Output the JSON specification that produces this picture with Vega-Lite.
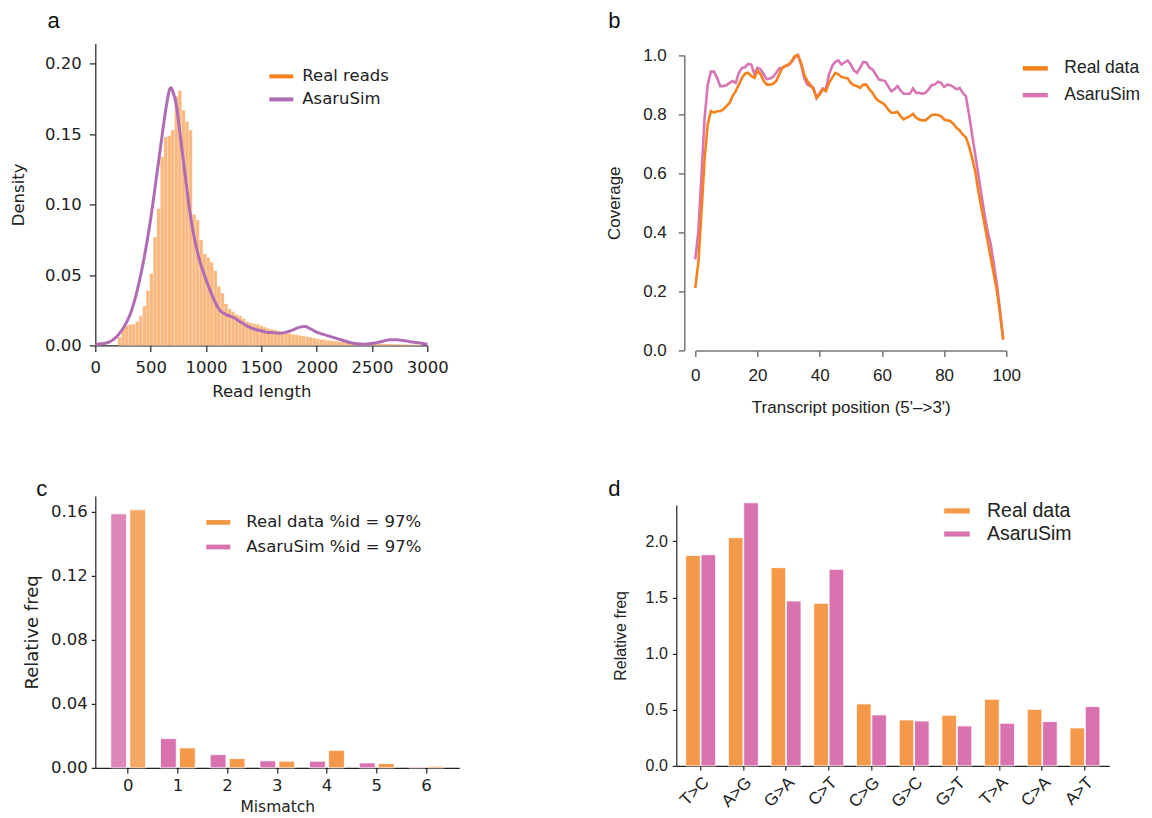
{
  "$schema": "https://vega.github.io/schema/vega-lite/v6.json",
  "background": "white",
  "padding": {"left": 10.3, "top": 9.4, "right": 5, "bottom": 0},
  "datasets": {
    "hist": [
      {"bin_start":204,"bin_end":236,"density":0.006},{"bin_start":236,"bin_end":268,"density":0.012},{"bin_start":268,"bin_end":300,"density":0.014},{"bin_start":300,"bin_end":332,"density":0.015},{"bin_start":332,"bin_end":364,"density":0.015},{"bin_start":364,"bin_end":396,"density":0.017},{"bin_start":396,"bin_end":428,"density":0.021},{"bin_start":428,"bin_end":460,"density":0.028},{"bin_start":460,"bin_end":492,"density":0.039},{"bin_start":492,"bin_end":524,"density":0.051},
      {"bin_start":524,"bin_end":556,"density":0.077},{"bin_start":556,"bin_end":588,"density":0.097},{"bin_start":588,"bin_end":620,"density":0.134},{"bin_start":620,"bin_end":652,"density":0.148},{"bin_start":652,"bin_end":684,"density":0.149},{"bin_start":684,"bin_end":716,"density":0.153},{"bin_start":716,"bin_end":748,"density":0.177},{"bin_start":748,"bin_end":780,"density":0.181},{"bin_start":780,"bin_end":812,"density":0.167},{"bin_start":812,"bin_end":844,"density":0.159},
      {"bin_start":844,"bin_end":876,"density":0.153},{"bin_start":876,"bin_end":908,"density":0.093},{"bin_start":908,"bin_end":940,"density":0.089},{"bin_start":940,"bin_end":972,"density":0.075},{"bin_start":972,"bin_end":1004,"density":0.065},{"bin_start":1004,"bin_end":1036,"density":0.0625},{"bin_start":1036,"bin_end":1068,"density":0.059},{"bin_start":1068,"bin_end":1100,"density":0.053},{"bin_start":1100,"bin_end":1132,"density":0.042},{"bin_start":1132,"bin_end":1164,"density":0.037},
      {"bin_start":1164,"bin_end":1196,"density":0.0295},{"bin_start":1196,"bin_end":1228,"density":0.026},{"bin_start":1228,"bin_end":1260,"density":0.024},{"bin_start":1260,"bin_end":1292,"density":0.022},{"bin_start":1292,"bin_end":1324,"density":0.021},{"bin_start":1324,"bin_end":1356,"density":0.019},{"bin_start":1356,"bin_end":1388,"density":0.017},{"bin_start":1388,"bin_end":1420,"density":0.016},{"bin_start":1420,"bin_end":1452,"density":0.0155},{"bin_start":1452,"bin_end":1484,"density":0.015},
      {"bin_start":1484,"bin_end":1516,"density":0.014},{"bin_start":1516,"bin_end":1548,"density":0.013},{"bin_start":1548,"bin_end":1580,"density":0.012},{"bin_start":1580,"bin_end":1612,"density":0.0115},{"bin_start":1612,"bin_end":1644,"density":0.011},{"bin_start":1644,"bin_end":1676,"density":0.0102},{"bin_start":1676,"bin_end":1708,"density":0.0095},{"bin_start":1708,"bin_end":1740,"density":0.009},{"bin_start":1740,"bin_end":1772,"density":0.0085},{"bin_start":1772,"bin_end":1804,"density":0.008},
      {"bin_start":1804,"bin_end":1836,"density":0.0075},{"bin_start":1836,"bin_end":1868,"density":0.007},{"bin_start":1868,"bin_end":1900,"density":0.0066},{"bin_start":1900,"bin_end":1932,"density":0.0062},{"bin_start":1932,"bin_end":1964,"density":0.0058},{"bin_start":1964,"bin_end":1996,"density":0.0052},{"bin_start":1996,"bin_end":2028,"density":0.0046},{"bin_start":2028,"bin_end":2060,"density":0.0042},{"bin_start":2060,"bin_end":2092,"density":0.0039},{"bin_start":2092,"bin_end":2124,"density":0.0036},
      {"bin_start":2124,"bin_end":2156,"density":0.0034},{"bin_start":2156,"bin_end":2188,"density":0.0031},{"bin_start":2188,"bin_end":2220,"density":0.0029},{"bin_start":2220,"bin_end":2252,"density":0.0027},{"bin_start":2252,"bin_end":2284,"density":0.0025},{"bin_start":2284,"bin_end":2316,"density":0.0023},{"bin_start":2316,"bin_end":2348,"density":0.0021},{"bin_start":2348,"bin_end":2380,"density":0.002},{"bin_start":2380,"bin_end":2412,"density":0.0018},{"bin_start":2412,"bin_end":2444,"density":0.0017},
      {"bin_start":2444,"bin_end":2476,"density":0.0016},{"bin_start":2476,"bin_end":2508,"density":0.0015},{"bin_start":2508,"bin_end":2540,"density":0.0014},{"bin_start":2540,"bin_end":2572,"density":0.0013},{"bin_start":2572,"bin_end":2604,"density":0.0012},{"bin_start":2604,"bin_end":2636,"density":0.0011},{"bin_start":2636,"bin_end":2668,"density":0.001},{"bin_start":2668,"bin_end":2700,"density":0.001},{"bin_start":2700,"bin_end":2732,"density":0.0009},{"bin_start":2732,"bin_end":2764,"density":0.0008},
      {"bin_start":2764,"bin_end":2796,"density":0.0008},{"bin_start":2796,"bin_end":2828,"density":0.0007},{"bin_start":2828,"bin_end":2860,"density":0.0006},{"bin_start":2860,"bin_end":2892,"density":0.0005},{"bin_start":2892,"bin_end":2924,"density":0.0004},{"bin_start":2924,"bin_end":2956,"density":0.0003}
    ],
    "kde": [
      {"length":0,"density":0.0007,"series":"AsaruSim"},{"length":100,"density":0.0017,"series":"AsaruSim"},{"length":190,"density":0.006,"series":"AsaruSim"},{"length":250,"density":0.012,"series":"AsaruSim"},{"length":310,"density":0.021,"series":"AsaruSim"},{"length":371,"density":0.0366,"series":"AsaruSim"},{"length":431,"density":0.058,"series":"AsaruSim"},{"length":491,"density":0.085,"series":"AsaruSim"},{"length":552,"density":0.119,"series":"AsaruSim"},{"length":612,"density":0.154,"series":"AsaruSim"},
      {"length":642,"density":0.17,"series":"AsaruSim"},{"length":672,"density":0.182,"series":"AsaruSim"},{"length":685,"density":0.183,"series":"AsaruSim"},{"length":702,"density":0.18,"series":"AsaruSim"},{"length":732,"density":0.171,"series":"AsaruSim"},{"length":763,"density":0.152,"series":"AsaruSim"},{"length":793,"density":0.133,"series":"AsaruSim"},{"length":823,"density":0.114,"series":"AsaruSim"},{"length":853,"density":0.0955,"series":"AsaruSim"},{"length":883,"density":0.081,"series":"AsaruSim"},
      {"length":944,"density":0.06,"series":"AsaruSim"},{"length":1004,"density":0.046,"series":"AsaruSim"},{"length":1064,"density":0.034,"series":"AsaruSim"},{"length":1125,"density":0.025,"series":"AsaruSim"},{"length":1185,"density":0.0217,"series":"AsaruSim"},{"length":1245,"density":0.02,"series":"AsaruSim"},{"length":1305,"density":0.017,"series":"AsaruSim"},{"length":1366,"density":0.014,"series":"AsaruSim"},{"length":1426,"density":0.0118,"series":"AsaruSim"},{"length":1486,"density":0.0106,"series":"AsaruSim"},
      {"length":1547,"density":0.0094,"series":"AsaruSim"},{"length":1607,"density":0.009,"series":"AsaruSim"},{"length":1667,"density":0.0087,"series":"AsaruSim"},{"length":1727,"density":0.0094,"series":"AsaruSim"},{"length":1788,"density":0.011,"series":"AsaruSim"},{"length":1848,"density":0.013,"series":"AsaruSim"},{"length":1893,"density":0.0134,"series":"AsaruSim"},{"length":1939,"density":0.012,"series":"AsaruSim"},{"length":1999,"density":0.0094,"series":"AsaruSim"},{"length":2059,"density":0.0078,"series":"AsaruSim"},
      {"length":2119,"density":0.0064,"series":"AsaruSim"},{"length":2180,"density":0.005,"series":"AsaruSim"},{"length":2240,"density":0.0035,"series":"AsaruSim"},{"length":2300,"density":0.0021,"series":"AsaruSim"},{"length":2361,"density":0.0012,"series":"AsaruSim"},{"length":2421,"density":0.0009,"series":"AsaruSim"},{"length":2481,"density":0.0012,"series":"AsaruSim"},{"length":2542,"density":0.0019,"series":"AsaruSim"},{"length":2602,"density":0.003,"series":"AsaruSim"},{"length":2662,"density":0.004,"series":"AsaruSim"},
      {"length":2722,"density":0.004,"series":"AsaruSim"},{"length":2783,"density":0.0035,"series":"AsaruSim"},{"length":2843,"density":0.0026,"series":"AsaruSim"},{"length":2933,"density":0.0017,"series":"AsaruSim"},{"length":3000,"density":0.0009,"series":"AsaruSim"}
    ],
    "cov": [
      {"pos":0,"Real data":0.212,"AsaruSim":0.308},{"pos":1,"Real data":0.3,"AsaruSim":0.404},{"pos":2,"Real data":0.47,"AsaruSim":0.596},{"pos":3,"Real data":0.65,"AsaruSim":0.788},{"pos":4,"Real data":0.765,"AsaruSim":0.9},{"pos":5,"Real data":0.81,"AsaruSim":0.944},{"pos":6,"Real data":0.805,"AsaruSim":0.944},{"pos":7,"Real data":0.81,"AsaruSim":0.923},{"pos":8,"Real data":0.81,"AsaruSim":0.895},{"pos":9,"Real data":0.816,"AsaruSim":0.895},
      {"pos":10,"Real data":0.827,"AsaruSim":0.898},{"pos":11,"Real data":0.838,"AsaruSim":0.906},{"pos":12,"Real data":0.861,"AsaruSim":0.912},{"pos":13,"Real data":0.878,"AsaruSim":0.906},{"pos":14,"Real data":0.9,"AsaruSim":0.94},{"pos":15,"Real data":0.923,"AsaruSim":0.957},{"pos":16,"Real data":0.937,"AsaruSim":0.959},{"pos":17,"Real data":0.94,"AsaruSim":0.97},{"pos":18,"Real data":0.929,"AsaruSim":0.968},{"pos":19,"Real data":0.923,"AsaruSim":0.935},
      {"pos":20,"Real data":0.946,"AsaruSim":0.957},{"pos":21,"Real data":0.935,"AsaruSim":0.951},{"pos":22,"Real data":0.912,"AsaruSim":0.935},{"pos":23,"Real data":0.9,"AsaruSim":0.918},{"pos":24,"Real data":0.9,"AsaruSim":0.921},{"pos":25,"Real data":0.903,"AsaruSim":0.926},{"pos":26,"Real data":0.912,"AsaruSim":0.94},{"pos":27,"Real data":0.935,"AsaruSim":0.955},{"pos":28,"Real data":0.957,"AsaruSim":0.957},{"pos":29,"Real data":0.963,"AsaruSim":0.963},
      {"pos":30,"Real data":0.968,"AsaruSim":0.966},{"pos":31,"Real data":0.98,"AsaruSim":0.977},{"pos":32,"Real data":0.997,"AsaruSim":0.993},{"pos":33,"Real data":1.0,"AsaruSim":1.0},{"pos":34,"Real data":0.974,"AsaruSim":0.968},{"pos":35,"Real data":0.935,"AsaruSim":0.923},{"pos":36,"Real data":0.912,"AsaruSim":0.9},{"pos":37,"Real data":0.9,"AsaruSim":0.895},{"pos":38,"Real data":0.884,"AsaruSim":0.889},{"pos":39,"Real data":0.855,"AsaruSim":0.855},
      {"pos":40,"Real data":0.867,"AsaruSim":0.872},{"pos":41,"Real data":0.884,"AsaruSim":0.887},{"pos":42,"Real data":0.878,"AsaruSim":0.884},{"pos":43,"Real data":0.906,"AsaruSim":0.935},{"pos":44,"Real data":0.923,"AsaruSim":0.963},{"pos":45,"Real data":0.94,"AsaruSim":0.977},{"pos":46,"Real data":0.935,"AsaruSim":0.982},{"pos":47,"Real data":0.926,"AsaruSim":0.968},{"pos":48,"Real data":0.923,"AsaruSim":0.975},{"pos":49,"Real data":0.921,"AsaruSim":0.982},
      {"pos":50,"Real data":0.906,"AsaruSim":0.968},{"pos":51,"Real data":0.898,"AsaruSim":0.948},{"pos":52,"Real data":0.895,"AsaruSim":0.94},{"pos":53,"Real data":0.889,"AsaruSim":0.957},{"pos":54,"Real data":0.9,"AsaruSim":0.977},{"pos":55,"Real data":0.9,"AsaruSim":0.975},{"pos":56,"Real data":0.884,"AsaruSim":0.957},{"pos":57,"Real data":0.872,"AsaruSim":0.951},{"pos":58,"Real data":0.855,"AsaruSim":0.935},{"pos":59,"Real data":0.844,"AsaruSim":0.918},
      {"pos":60,"Real data":0.839,"AsaruSim":0.915},{"pos":61,"Real data":0.831,"AsaruSim":0.912},{"pos":62,"Real data":0.816,"AsaruSim":0.895},{"pos":63,"Real data":0.805,"AsaruSim":0.878},{"pos":64,"Real data":0.805,"AsaruSim":0.884},{"pos":65,"Real data":0.808,"AsaruSim":0.895},{"pos":66,"Real data":0.793,"AsaruSim":0.88},{"pos":67,"Real data":0.782,"AsaruSim":0.869},{"pos":68,"Real data":0.788,"AsaruSim":0.869},{"pos":69,"Real data":0.793,"AsaruSim":0.869},
      {"pos":70,"Real data":0.801,"AsaruSim":0.887},{"pos":71,"Real data":0.788,"AsaruSim":0.872},{"pos":72,"Real data":0.782,"AsaruSim":0.872},{"pos":73,"Real data":0.779,"AsaruSim":0.869},{"pos":74,"Real data":0.779,"AsaruSim":0.872},{"pos":75,"Real data":0.788,"AsaruSim":0.884},{"pos":76,"Real data":0.797,"AsaruSim":0.898},{"pos":77,"Real data":0.799,"AsaruSim":0.9},{"pos":78,"Real data":0.797,"AsaruSim":0.91},{"pos":79,"Real data":0.793,"AsaruSim":0.906},
      {"pos":80,"Real data":0.782,"AsaruSim":0.892},{"pos":81,"Real data":0.779,"AsaruSim":0.9},{"pos":82,"Real data":0.777,"AsaruSim":0.898},{"pos":83,"Real data":0.767,"AsaruSim":0.892},{"pos":84,"Real data":0.754,"AsaruSim":0.884},{"pos":85,"Real data":0.745,"AsaruSim":0.889},{"pos":86,"Real data":0.731,"AsaruSim":0.872},{"pos":87,"Real data":0.722,"AsaruSim":0.861},{"pos":88,"Real data":0.692,"AsaruSim":0.8},{"pos":89,"Real data":0.652,"AsaruSim":0.731},
      {"pos":90,"Real data":0.607,"AsaruSim":0.664},{"pos":91,"Real data":0.54,"AsaruSim":0.596},{"pos":92,"Real data":0.483,"AsaruSim":0.528},{"pos":93,"Real data":0.427,"AsaruSim":0.46},{"pos":94,"Real data":0.37,"AsaruSim":0.404},{"pos":95,"Real data":0.314,"AsaruSim":0.359},{"pos":96,"Real data":0.257,"AsaruSim":0.291},{"pos":97,"Real data":0.2,"AsaruSim":0.223},{"pos":98,"Real data":0.122,"AsaruSim":0.133},{"pos":99,"Real data":0.037,"AsaruSim":0.037}
    ],
    "mm": [
      {"mismatch":0,"series":"AsaruSim %id = 97%","freq":0.1588},{"mismatch":0,"series":"Real data %id = 97%","freq":0.1613},
      {"mismatch":1,"series":"AsaruSim %id = 97%","freq":0.0183},{"mismatch":1,"series":"Real data %id = 97%","freq":0.0125},
      {"mismatch":2,"series":"AsaruSim %id = 97%","freq":0.0083},{"mismatch":2,"series":"Real data %id = 97%","freq":0.0058},
      {"mismatch":3,"series":"AsaruSim %id = 97%","freq":0.0044},{"mismatch":3,"series":"Real data %id = 97%","freq":0.0042},
      {"mismatch":4,"series":"AsaruSim %id = 97%","freq":0.0042},{"mismatch":4,"series":"Real data %id = 97%","freq":0.011},
      {"mismatch":5,"series":"AsaruSim %id = 97%","freq":0.0031},{"mismatch":5,"series":"Real data %id = 97%","freq":0.0027},
      {"mismatch":6,"series":"AsaruSim %id = 97%","freq":0.0006},{"mismatch":6,"series":"Real data %id = 97%","freq":0.001}
    ],
    "sub": [
      {"sub":"T>C","series":"Real data","freq":1.875},{"sub":"T>C","series":"AsaruSim","freq":1.881},
      {"sub":"A>G","series":"Real data","freq":2.033},{"sub":"A>G","series":"AsaruSim","freq":2.344},
      {"sub":"G>A","series":"Real data","freq":1.766},{"sub":"G>A","series":"AsaruSim","freq":1.469},
      {"sub":"C>T","series":"Real data","freq":1.448},{"sub":"C>T","series":"AsaruSim","freq":1.751},
      {"sub":"C>G","series":"Real data","freq":0.552},{"sub":"C>G","series":"AsaruSim","freq":0.454},
      {"sub":"G>C","series":"Real data","freq":0.409},{"sub":"G>C","series":"AsaruSim","freq":0.4},
      {"sub":"G>T","series":"Real data","freq":0.451},{"sub":"G>T","series":"AsaruSim","freq":0.356},
      {"sub":"T>A","series":"Real data","freq":0.593},{"sub":"T>A","series":"AsaruSim","freq":0.38},
      {"sub":"C>A","series":"Real data","freq":0.504},{"sub":"C>A","series":"AsaruSim","freq":0.395},
      {"sub":"A>T","series":"Real data","freq":0.338},{"sub":"A>T","series":"AsaruSim","freq":0.528}
    ]
  },
  "vconcat": [
    {
      "hconcat": [
        {
          "title": {"text": "a", "anchor": "start", "frame": "group", "dx": -47.7, "offset": -6.3, "baseline": "alphabetic", "font": "Liberation Sans", "fontSize": 22, "fontWeight": "normal", "color": "#111"},
          "width": 332,
          "height": 302,
          "layer": [
            {
              "data": {"name": "hist"},
              "mark": {"type": "bar", "color": "#f9b87f", "stroke": "#ffffff", "strokeWidth": 0.3, "strokeOpacity": 0.6},
              "encoding": {
                "x": {"field": "bin_start", "type": "quantitative", "scale": {"domain": [0, 3000], "nice": false, "padding": 0},
                  "axis": {"title": "Read length", "values": [0, 500, 1000, 1500, 2000, 2500, 3000], "format": "d", "labelFlush": false, "labelOverlap": false, "labelFont": "DejaVu Sans", "labelFontSize": 16.5, "labelColor": "#222", "titleFont": "DejaVu Sans", "titleFontSize": 16.5, "titleFontWeight": "normal", "titleColor": "#222", "tickSize": 6, "labelPadding": 8, "titlePadding": 8, "domainColor": "#222", "tickColor": "#222", "domainWidth": 1.2, "tickWidth": 1.2}},
                "x2": {"field": "bin_end"},
                "y": {"field": "density", "type": "quantitative", "scale": {"domain": [0, 0.2145], "nice": false, "padding": 0},
                  "axis": {"title": "Density", "values": [0, 0.05, 0.1, 0.15, 0.2], "format": ".2f", "labelFont": "DejaVu Sans", "labelFontSize": 16.5, "labelColor": "#222", "titleFont": "DejaVu Sans", "titleFontSize": 16.5, "titleFontWeight": "normal", "titleColor": "#222", "tickSize": 6, "labelPadding": 8, "titlePadding": 18, "domainColor": "#222", "tickColor": "#222", "domainWidth": 1.2, "tickWidth": 1.2}},
                "y2": {"datum": 0}
              }
            },
            {
              "data": {"name": "kde"},
              "mark": {"type": "line", "strokeWidth": 3, "interpolate": "monotone"},
              "encoding": {
                "x": {"field": "length", "type": "quantitative"},
                "y": {"field": "density", "type": "quantitative"},
                "color": {"field": "series", "type": "nominal", "scale": {"domain": ["Real reads", "AsaruSim"], "range": ["#f5821f", "#b06bb5"]},
                  "legend": {"orient": "none", "legendX": 172, "legendY": 19, "title": null, "symbolType": "stroke", "symbolStrokeWidth": 4, "symbolSize": 576, "labelFont": "DejaVu Sans", "labelFontSize": 16.5, "labelColor": "#222", "labelOffset": 7, "rowPadding": 0, "labelLimit": 400}}
              }
            }
          ]
        },
        {
          "title": {"text": "b", "anchor": "start", "frame": "group", "dx": -87, "offset": -6.3, "baseline": "alphabetic", "font": "Liberation Sans", "fontSize": 22, "fontWeight": "normal", "color": "#111"},
          "width": 311,
          "height": 307,
          "data": {"name": "cov"},
          "transform": [{"fold": ["AsaruSim", "Real data"], "as": ["series", "coverage"]}],
          "mark": {"type": "line", "strokeWidth": 2.6},
          "encoding": {
            "x": {"field": "pos", "type": "quantitative", "scale": {"domain": [0, 100], "nice": false},
              "axis": {"title": "Transcript position (5'–>3')", "values": [0, 20, 40, 60, 80, 100], "labelFlush": false, "labelFont": "Liberation Sans", "labelFontSize": 17, "labelColor": "#222", "titleFont": "Liberation Sans", "titleFontSize": 17, "titleFontWeight": "normal", "titleColor": "#222", "tickSize": 6, "labelPadding": 11, "titlePadding": 16, "domainColor": "#777", "tickColor": "#777", "domainWidth": 1.5, "tickWidth": 1.5}},
            "y": {"field": "coverage", "type": "quantitative", "scale": {"domain": [0, 1], "range": [307, 11.7], "nice": false},
              "axis": {"title": "Coverage", "values": [0, 0.2, 0.4, 0.6, 0.8, 1.0], "format": ".1f", "offset": 11, "labelFont": "Liberation Sans", "labelFontSize": 17, "labelColor": "#222", "titleFont": "Liberation Sans", "titleFontSize": 17, "titleFontWeight": "normal", "titleColor": "#222", "tickSize": 6, "labelPadding": 12, "titlePadding": 19, "domainColor": "#777", "tickColor": "#777", "domainWidth": 1.5, "tickWidth": 1.5}},
            "color": {"field": "series", "type": "nominal", "scale": {"domain": ["Real data", "AsaruSim"], "range": ["#f5821f", "#d875b4"]},
              "legend": {"orient": "none", "legendX": 325, "legendY": 10, "title": null, "symbolType": "stroke", "symbolStrokeWidth": 4.5, "symbolSize": 625, "labelFont": "Liberation Sans", "labelFontSize": 17.5, "labelColor": "#222", "labelOffset": 14, "rowPadding": 2.7, "labelLimit": 400}}
          }
        }
      ],
      "spacing": 157,
      "resolve": {"scale": {"color": "independent", "x": "independent", "y": "independent"}, "legend": {"color": "independent"}}
    },
    {
      "hconcat": [
        {
          "title": {"text": "c", "anchor": "start", "frame": "group", "dx": -59, "offset": -22, "baseline": "alphabetic", "font": "Liberation Sans", "fontSize": 22, "fontWeight": "normal", "color": "#111"},
          "width": 364,
          "height": 272,
          "data": {"name": "mm"},
          "mark": {"type": "bar", "stroke": "#ffffff", "strokeWidth": 0.8},
          "encoding": {
            "x": {"field": "mismatch", "type": "ordinal", "scale": {"paddingInner": 0.3, "paddingOuter": 0.312},
              "axis": {"title": "Mismatch", "labelAngle": 0, "labelFont": "DejaVu Sans", "labelFontSize": 16.5, "labelColor": "#222", "titleFont": "DejaVu Sans", "titleFontSize": 15.5, "titleFontWeight": "normal", "titleColor": "#222", "tickSize": 5, "labelPadding": 5, "titlePadding": 5, "domainColor": "#222", "tickColor": "#222", "domainWidth": 1.2, "tickWidth": 1.2}},
            "xOffset": {"field": "series", "type": "nominal", "scale": {"domain": ["AsaruSim %id = 97%", "Real data %id = 97%"], "paddingInner": 0.17}},
            "y": {"field": "freq", "type": "quantitative", "scale": {"domain": [0, 0.17], "nice": false},
              "axis": {"title": "Relative freq", "values": [0, 0.04, 0.08, 0.12, 0.16], "format": ".2f", "labelFont": "DejaVu Sans", "labelFontSize": 16.5, "labelColor": "#222", "titleFont": "DejaVu Sans", "titleFontSize": 18, "titleFontWeight": "normal", "titleColor": "#222", "tickSize": 4, "labelPadding": 4, "titlePadding": 9, "domainColor": "#222", "tickColor": "#222", "domainWidth": 1.2, "tickWidth": 1.2}},
            "color": {"field": "series", "type": "nominal", "scale": {"domain": ["Real data %id = 97%", "AsaruSim %id = 97%"], "range": ["#f4984a", "#d873b0"]},
              "legend": {"orient": "none", "legendX": 111, "legendY": 14.5, "title": null, "symbolType": "M-1,-0.2H1V0.2H-1Z", "symbolSize": 576, "symbolStrokeWidth": 0, "labelFont": "DejaVu Sans", "labelFontSize": 16.5, "labelColor": "#222", "labelOffset": 16, "rowPadding": 3.6, "labelLimit": 400}},
            "opacity": {"condition": {"test": "datum.mismatch === 0", "value": 0.85}, "value": 1}
          }
        },
        {
          "title": {"text": "d", "anchor": "start", "frame": "group", "dx": -68, "offset": -22, "baseline": "alphabetic", "font": "Liberation Sans", "fontSize": 22, "fontWeight": "normal", "color": "#111"},
          "width": 433,
          "height": 270,
          "data": {"name": "sub"},
          "mark": {"type": "bar", "stroke": "#ffffff", "strokeWidth": 0.8, "clip": false},
          "encoding": {
            "x": {"field": "sub", "type": "nominal", "sort": ["T>C", "A>G", "G>A", "C>T", "C>G", "G>C", "G>T", "T>A", "C>A", "A>T"], "scale": {"paddingInner": 0.3, "paddingOuter": 0.22},
              "axis": {"title": null, "labelAngle": -45, "labelFont": "Liberation Sans", "labelFontSize": 17, "labelColor": "#222", "tickSize": 4, "labelPadding": 4, "domainColor": "#222", "tickColor": "#222", "domainWidth": 1.2, "tickWidth": 1.2}},
            "xOffset": {"field": "series", "type": "nominal", "scale": {"domain": ["Real data", "AsaruSim"], "paddingInner": 0.05}},
            "y": {"field": "freq", "type": "quantitative", "scale": {"domain": [0, 2.325], "range": [270, 9], "nice": false},
              "axis": {"title": "Relative freq", "values": [0, 0.5, 1.0, 1.5, 2.0], "format": ".1f", "labelFont": "Liberation Sans", "labelFontSize": 16, "labelColor": "#222", "titleFont": "Liberation Sans", "titleFontSize": 16, "titleFontWeight": "normal", "titleColor": "#222", "tickSize": 4, "labelPadding": 5, "titlePadding": 17, "domainColor": "#222", "tickColor": "#222", "domainWidth": 1.2, "tickWidth": 1.2}},
            "color": {"field": "series", "type": "nominal", "scale": {"domain": ["Real data", "AsaruSim"], "range": ["#f4984a", "#d873b0"]},
              "legend": {"orient": "none", "legendX": 267.7, "legendY": 2, "title": null, "symbolType": "M-1,-0.2H1V0.2H-1Z", "symbolSize": 655, "symbolStrokeWidth": 0, "labelFont": "Liberation Sans", "labelFontSize": 19.5, "labelColor": "#222", "labelOffset": 17, "rowPadding": 0.1, "labelLimit": 400}}
          }
        }
      ],
      "spacing": 149,
      "resolve": {"scale": {"color": "independent", "x": "independent", "y": "independent", "xOffset": "independent"}, "legend": {"color": "independent"}}
    }
  ],
  "spacing": 62.5,
  "resolve": {"scale": {"color": "independent", "x": "independent", "y": "independent"}, "legend": {"color": "independent"}},
  "config": {"view": {"stroke": null}, "axis": {"grid": false}}
}
